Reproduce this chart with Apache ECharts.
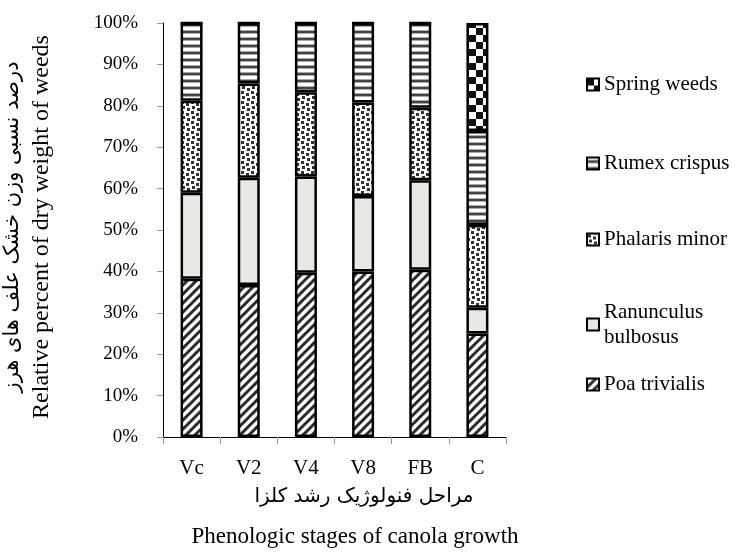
<!DOCTYPE html>
<html>
<head>
<meta charset="utf-8">
<script src="https://cdn.jsdelivr.net/npm/echarts@6/dist/echarts.min.js"></script>
<style>
html,body{margin:0;padding:0;background:#fff;}
#chart{width:735px;height:553px;}
</style>
</head>
<body>
<div id="chart"></div>
<script>
// ---- data ----
var categories = ['Vc', 'V2', 'V4', 'V8', 'FB', 'C'];
var seriesNames = ['Poa trivialis', 'Ranunculus bulbosus', 'Phalaris minor', 'Rumex crispus', 'Spring weeds'];
var poaTrivialis = [38.2, 36.7, 39.7, 40.0, 40.4, 25.0];
var ranunculusBulbosus = [20.8, 25.9, 23.2, 18.2, 21.6, 6.2];
var phalarisMinor = [22.2, 22.8, 20.4, 22.6, 17.5, 20.0];
var rumexCrispus = [18.8, 14.6, 16.7, 19.2, 20.5, 22.7];
var springWeeds = [0, 0, 0, 0, 0, 26.1];
var yTickLabels = ['0%', '10%', '20%', '30%', '40%', '50%', '60%', '70%', '80%', '90%', '100%'];
var yTitleEn = 'Relative percent of dry weight of weeds';
var yTitleFa = 'درصد نسبی وزن خشک علف های هرز';
var xTitleFa = 'مراحل فنولوژیک رشد کلزا';
var xTitleEn = 'Phenologic stages of canola growth';

// ---- patterns ----
function mk(w, h, draw) {
  var c = document.createElement('canvas');
  c.width = w; c.height = h;
  var ctx = c.getContext('2d');
  ctx.fillStyle = '#fff'; ctx.fillRect(0, 0, w, h);
  draw(ctx);
  return { image: c, repeat: 'repeat' };
}
var patDiag = mk(9, 9, function (ctx) {
  ctx.strokeStyle = '#2a2a2a'; ctx.lineWidth = 3;
  ctx.beginPath();
  ctx.moveTo(-3, 12); ctx.lineTo(12, -3);
  ctx.moveTo(-3, 3); ctx.lineTo(3, -3);
  ctx.moveTo(6, 12); ctx.lineTo(12, 6);
  ctx.stroke();
});
var patDots = mk(10, 10, function (ctx) {
  ctx.fillStyle = '#333';
  ctx.fillRect(1, 1, 3, 3);
  ctx.fillRect(6, 3, 3, 3);
  ctx.fillRect(2, 6, 3, 3);
  ctx.fillRect(7, 8, 3, 2);
  ctx.fillRect(7, 0, 3, 1);
});
var patHoriz = mk(4, 7, function (ctx) {
  ctx.fillStyle = '#aaa'; ctx.fillRect(0, 2, 4, 1); ctx.fillRect(0, 5, 4, 1);
  ctx.fillStyle = '#444'; ctx.fillRect(0, 3, 4, 2);
});
var patCheck = mk(14, 14, function (ctx) {
  ctx.fillStyle = '#111';
  ctx.fillRect(0, 0, 7, 7);
  ctx.fillRect(7, 7, 7, 7);
});
var fills = [patDiag, '#e8e8e4', patDots, patHoriz, patCheck];
var values = [poaTrivialis, ranunculusBulbosus, phalarisMinor, rumexCrispus, springWeeds];

var FONT = '"Liberation Serif", "Times New Roman", "DejaVu Serif", serif';

var series = seriesNames.map(function (n, i) {
  return {
    name: n, type: 'bar', stack: 'all', barWidth: 22,
    data: values[i],
    itemStyle: { color: fills[i], borderColor: '#000', borderWidth: 2.5 },
    emphasis: { disabled: true }
  };
});

// legend items (one per component for exact placement)
var legendTops = { 'Spring weeds': 72, 'Rumex crispus': 151, 'Phalaris minor': 227, 'Ranunculus bulbosus': 287, 'Poa trivialis': 372 };
var legends = ['Spring weeds', 'Rumex crispus', 'Phalaris minor', 'Ranunculus bulbosus', 'Poa trivialis'].map(function (n) {
  var two = n === 'Ranunculus bulbosus';
  return {
    data: [n], left: 586, top: legendTops[n], padding: 0, orient: 'vertical',
    itemWidth: 12, itemHeight: 12, icon: 'rect', selectedMode: false,
    formatter: two ? function () { return 'Ranunculus\nbulbosus'; } : '{name}',
    textStyle: { fontFamily: FONT, fontSize: 21, color: '#000', lineHeight: 25, padding: two ? [25, 0, 0, 0] : 0 }
  };
});

var chart = echarts.init(document.getElementById('chart'), null, { renderer: 'canvas' });
chart.setOption({
  animation: false,
  backgroundColor: '#fff',
  grid: { left: 163, right: 229, top: 23, bottom: 116, containLabel: false },
  legend: legends,
  xAxis: {
    type: 'category', data: categories,
    axisLine: { lineStyle: { color: '#000', width: 1 } },
    axisTick: { show: true, length: 7, lineStyle: { color: '#999' } },
    axisLabel: { fontFamily: FONT, fontSize: 21, color: '#000', margin: 21 }
  },
  yAxis: {
    type: 'value', min: 0, max: 100, interval: 10,
    axisLine: { show: true, lineStyle: { color: '#000', width: 1 } },
    axisTick: { show: true, length: 6, lineStyle: { color: '#999' } },
    splitLine: { show: false },
    axisLabel: {
      fontFamily: FONT, fontSize: 19, color: '#000', margin: 25,
      formatter: function (v) { return yTickLabels[Math.round(v / 10)]; }
    }
  },
  graphic: [
    { type: 'text', x: 42, y: 227, rotation: Math.PI / 2, style: { text: yTitleEn, font: '24px ' + FONT, fill: '#000', align: 'center', verticalAlign: 'middle' } },
    { type: 'text', x: 13, y: 227, rotation: Math.PI / 2, style: { text: yTitleFa, font: '21px "DejaVu Sans", "Noto Sans", sans-serif', fill: '#000', align: 'center', verticalAlign: 'middle' } },
    { type: 'text', x: 364, y: 497, style: { text: xTitleFa, font: '20px "DejaVu Sans", "Noto Sans", sans-serif', fill: '#000', align: 'center', verticalAlign: 'middle' } },
    { type: 'text', x: 355, y: 537, style: { text: xTitleEn, font: '23px ' + FONT, fill: '#000', align: 'center', verticalAlign: 'middle' } }
  ],
  series: series
});
</script>
</body>
</html>
